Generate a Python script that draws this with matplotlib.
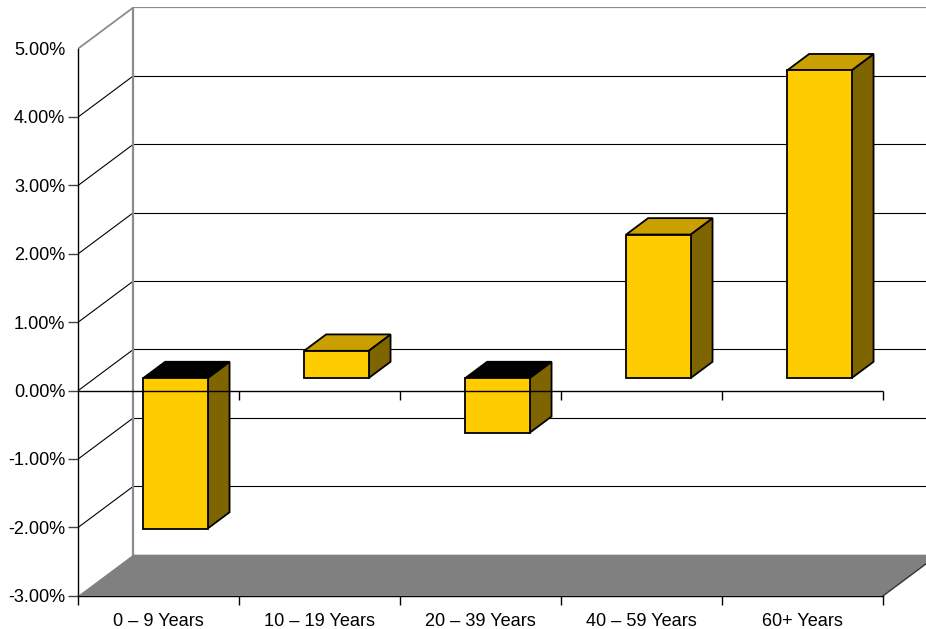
import matplotlib
matplotlib.use("Agg")
import matplotlib.pyplot as plt
from matplotlib.patches import Polygon, Rectangle

# Data
categories = ["0 \u2013 9 Years", "10 \u2013 19 Years", "20 \u2013 39 Years", "40 \u2013 59 Years", "60+ Years"]
values = [-2.2, 0.4, -0.8, 2.1, 4.5]
y_ticks = [-3, -2, -1, 0, 1, 2, 3, 4, 5]
y_tick_labels = [f"{v:.2f}%" for v in y_ticks]

# Colours
FRONT = "#FFCC00"
TOP = "#C9A000"
SIDE = "#7F6500"
FLOOR = "#808080"
WALL_EDGE = "#8C8C8C"

plt.rcParams["font.family"] = ["Liberation Sans", "DejaVu Sans"]

W_PX, H_PX = 926, 629
fig = plt.figure(figsize=(W_PX / 100, H_PX / 100), dpi=100)

# Front plane of the 3-D box
left_px, bottom_px, top_px = 78.3, 595.7, 7.3
cat_px, pct_px = 161.0, 68.4
ax = fig.add_axes([left_px / W_PX, (H_PX - bottom_px) / H_PX,
                   (W_PX - left_px) / W_PX, (bottom_px - top_px) / H_PX])
ymin, ymax = -3, 5
ax.set_xlim(0, (W_PX - left_px) / cat_px)
ax.set_ylim(ymin, ymin + (bottom_px - top_px) / pct_px)

n = len(categories)
DX, DY = 0.342, 0.60          # depth offset of the back wall
F0, F1 = 0.30, 0.70           # depth span of the bars
BW = 0.40                     # bar width in category units

# Back wall
ax.add_patch(Rectangle((DX, ymin + DY), n, ymax - ymin, facecolor="white",
                       edgecolor="none", zorder=0))
for v in y_ticks[1:-1]:
    ax.plot([DX, n + DX], [v + DY, v + DY], color="black", lw=0.8, zorder=1,
            solid_capstyle="butt")
    ax.plot([0, DX], [v, v + DY], color="black", lw=0.8, zorder=1)
# wall edges
ax.plot([DX, DX, n + DX], [ymin + DY, ymax + DY, ymax + DY], color=WALL_EDGE,
        lw=1.6, zorder=2, solid_joinstyle="miter")
ax.plot([0, DX], [ymax, ymax + DY], color=WALL_EDGE, lw=1.3, zorder=2)

# Floor
ax.add_patch(Polygon([(0, ymin), (DX, ymin + DY), (n + DX, ymin + DY), (n, ymin)],
                     closed=True, facecolor=FLOOR, edgecolor="none", zorder=2))
ax.plot([n, n + DX], [ymin, ymin + DY], color="#333333", lw=1.0, zorder=3)

# Bars
dx, dy = (F1 - F0) * DX, (F1 - F0) * DY
for i, v in enumerate(values):
    c = i + 0.5
    x0 = c - BW / 2 + F0 * DX
    x1 = c + BW / 2 + F0 * DX
    b = F0 * DY
    t = v + F0 * DY
    hi = max(b, t)
    kw = dict(closed=True, edgecolor="black", lw=1.3, joinstyle="miter", zorder=4)
    ax.add_patch(Polygon([(x1, b), (x1, t), (x1 + dx, t + dy), (x1 + dx, b + dy)],
                         facecolor=SIDE, **kw))
    ax.add_patch(Polygon([(x0, hi), (x1, hi), (x1 + dx, hi + dy), (x0 + dx, hi + dy)],
                         facecolor=TOP if v >= 0 else "black", **kw))
    ax.add_patch(Polygon([(x0, b), (x1, b), (x1, t), (x0, t)],
                         facecolor=FRONT, **kw))

# Zero line across the front
ax.plot([0, n], [0, 0], color="black", lw=1.0, zorder=6, solid_capstyle="butt")
ax.vlines(range(1, n + 1), -9 / pct_px, 0, color="black", lw=1.0, zorder=6)

# Axes styling
for s in ["top", "right"]:
    ax.spines[s].set_visible(False)
ax.spines["left"].set_bounds(ymin, ymax)
ax.spines["bottom"].set_bounds(0, n)
for s in ["left", "bottom"]:
    ax.spines[s].set_linewidth(1.0)
    ax.spines[s].set_zorder(5)

ax.set_yticks(y_ticks)
ax.set_yticklabels(y_tick_labels)
ax.yaxis.get_major_ticks()[-1].tick1line.set_visible(False)
ax.set_xticks(range(0, n + 1))
ax.set_xticklabels([])
ax.set_xticks([i + 0.5 for i in range(n)], minor=True)
ax.set_xticklabels(categories, minor=True)
ax.tick_params(axis="y", length=7.2, width=1.0, color="#444444", pad=2.2,
               labelsize=13.1)
ax.tick_params(axis="x", which="major", length=6.8, width=1.0, color="black")
ax.tick_params(axis="x", which="minor", length=0, pad=12.6, labelsize=13.1)
ax.patch.set_visible(False)

fig.savefig("out.png", dpi=100)
